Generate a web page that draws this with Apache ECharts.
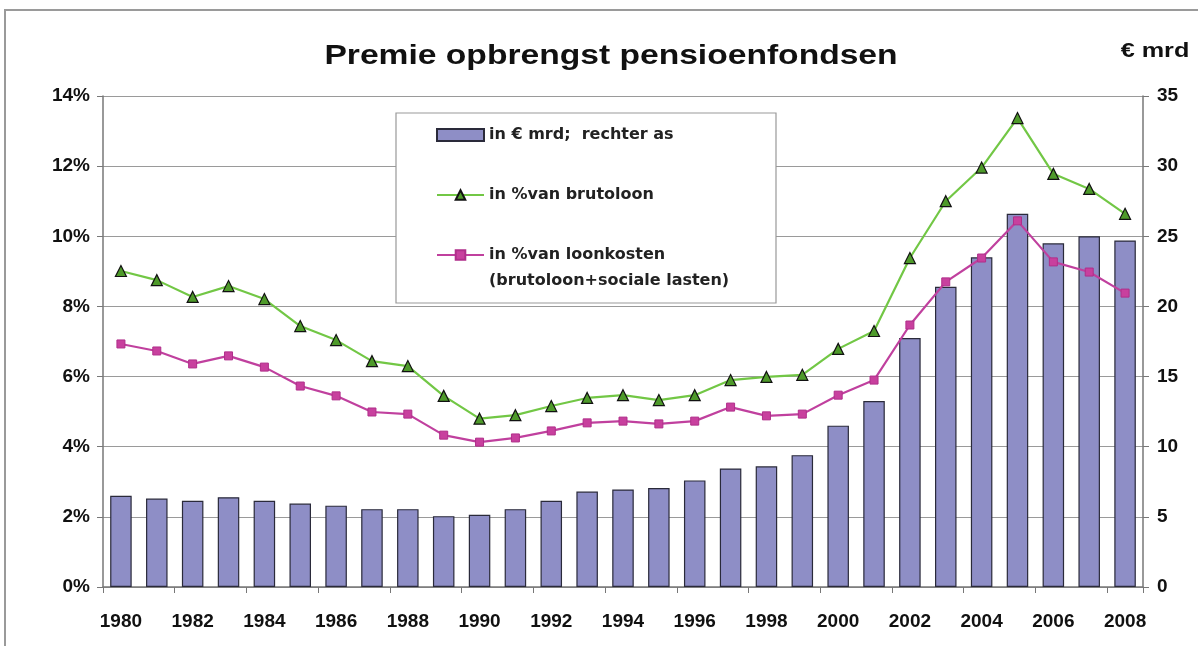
<!DOCTYPE html>
<html>
<head>
<meta charset="utf-8">
<script src="https://cdn.jsdelivr.net/npm/echarts@6/dist/echarts.min.js"></script>
<style>
  html, body { margin: 0; padding: 0; background: #fff; }
  #chart { width: 1198px; height: 646px; }
</style>
</head>
<body>
<div id="chart"></div>
<script>
// jaren en waarden
var years = ['1980','1981','1982','1983','1984','1985','1986','1987','1988','1989',
  '1990','1991','1992','1993','1994','1995','1996','1997','1998','1999',
  '2000','2001','2002','2003','2004','2005','2006','2007','2008']
var premieMrd = [6.5, 6.3, 6.15, 6.4, 6.15, 5.95, 5.8, 5.55, 5.55, 5.05,
  5.15, 5.55, 6.15, 6.8, 6.95, 7.05, 7.6, 8.45, 8.6, 9.4,
  11.5, 13.25, 17.75, 21.4, 23.5, 26.6, 24.5, 25.0, 24.7]
var pctBrutoloon = [9.01, 8.75, 8.27, 8.58, 8.21, 7.44, 7.04, 6.44, 6.3, 5.45,
  4.8, 4.9, 5.16, 5.39, 5.47, 5.33, 5.47, 5.9, 5.99, 6.05,
  6.79, 7.3, 9.38, 11.0, 11.96, 13.37, 11.78, 11.35, 10.64]
var pctLoonkosten = [6.93, 6.73, 6.36, 6.59, 6.27, 5.73, 5.45, 4.99, 4.93, 4.33,
  4.13, 4.25, 4.45, 4.68, 4.73, 4.65, 4.73, 5.13, 4.88, 4.93,
  5.47, 5.9, 7.47, 8.7, 9.38, 10.44, 9.27, 8.98, 8.38]
var leftTicks = { min: 0, max: 14, interval: 2 }
var rightTicks = { min: 0, max: 35, interval: 5 }

var font = 'Liberation Sans, Arial, sans-serif'
var chart = echarts.init(document.getElementById('chart'))

var option = {
  animation: false,
  backgroundColor: '#fff',
  textStyle: { fontFamily: font },
  grid: { left: 103, right: 55, top: 96, bottom: 59, containLabel: false },
  legend: {
    orient: 'vertical',
    left: 431, top: 119,
    itemWidth: 47, itemHeight: 12, itemGap: 38,
    textStyle: { fontSize: 16, fontWeight: 'bold', color: '#222', lineHeight: 22, fontFamily: 'DejaVu Sans' },
    data: [
      { name: 'in € mrd;  rechter as', icon: 'rect' },
      { name: 'in %van brutoloon' },
      { name: 'in %van loonkosten' }
    ]
  },
  xAxis: {
    type: 'category',
    data: years,
    boundaryGap: true,
    axisLine: { lineStyle: { color: '#777', width: 1.5 } },
    axisTick: { show: true, length: 6, lineStyle: { color: '#777' } },
    axisLabel: { interval: 1, fontSize: 19, fontWeight: 'bold', color: '#111', margin: 25 }
  },
  yAxis: [
    {
      type: 'value', min: leftTicks.min, max: leftTicks.max, interval: leftTicks.interval,
      axisLine: { show: true, lineStyle: { color: '#777', width: 1.5 } },
      axisTick: { show: true, length: 6, lineStyle: { color: '#777' } },
      splitLine: { lineStyle: { color: '#9a9a9a', width: 1.2 } },
      axisLabel: { formatter: '{value}%', fontSize: 19, fontWeight: 'bold', color: '#111', margin: 13 }
    },
    {
      type: 'value', min: rightTicks.min, max: rightTicks.max, interval: rightTicks.interval,
      position: 'right',
      axisLine: { show: true, lineStyle: { color: '#777', width: 1.5 } },
      axisTick: { show: true, length: 6, lineStyle: { color: '#777' } },
      splitLine: { show: false },
      axisLabel: { fontSize: 19, fontWeight: 'bold', color: '#111', margin: 14 }
    }
  ],
  graphic: [
    { type: 'rect', shape: { x: 5, y: 10, width: 1250, height: 700 }, z: -10, silent: true,
      style: { fill: 'none', stroke: '#9a9a9a', lineWidth: 2 } },
    { type: 'rect', shape: { x: 396, y: 113, width: 380, height: 190 }, z: 3, silent: true,
      style: { fill: '#fff', stroke: '#999', lineWidth: 1.2 } },
    { type: 'text', x: 489, y: 273, z: 5, silent: true,
      style: { text: '(brutoloon+sociale lasten)', fontSize: 16, fontWeight: 'bold', fill: '#222', fontFamily: 'DejaVu Sans' } },
    // titel, iets breder getrokken zoals in het origineel
    { type: 'text', x: 611, y: 56, scaleX: 1.2, z: 5, silent: true,
      style: { text: 'Premie opbrengst pensioenfondsen', align: 'center', verticalAlign: 'middle',
        fontSize: 28, fontWeight: 'bold', fill: '#111', fontFamily: font } },
    { type: 'text', x: 1155, y: 51, scaleX: 1.2, z: 5, silent: true,
      style: { text: '€ mrd', align: 'center', verticalAlign: 'middle',
        fontSize: 21, fontWeight: 'bold', fill: '#111', fontFamily: font } }
  ],
  series: [
    {
      name: 'in € mrd;  rechter as',
      type: 'bar',
      yAxisIndex: 1,
      data: premieMrd,
      barWidth: '60%',
      itemStyle: { color: '#8e8ec6', borderColor: '#2a2a3a', borderWidth: 1.2 },
      z: 1
    },
    {
      name: 'in %van brutoloon',
      type: 'line',
      yAxisIndex: 0,
      data: pctBrutoloon,
      symbol: 'triangle', symbolSize: 11,
      lineStyle: { color: '#72c745', width: 2.2 },
      itemStyle: { color: '#4e9a2a', borderColor: '#111', borderWidth: 1.2 },
      z: 2
    },
    {
      name: 'in %van loonkosten',
      type: 'line',
      yAxisIndex: 0,
      data: pctLoonkosten,
      symbol: 'rect', symbolSize: 8,
      lineStyle: { color: '#c0409e', width: 2.2 },
      itemStyle: { color: '#c8409e', borderColor: '#b02e8a', borderWidth: 1 },
      z: 2
    }
  ]
}
chart.setOption(option)
</script>
</body>
</html>
